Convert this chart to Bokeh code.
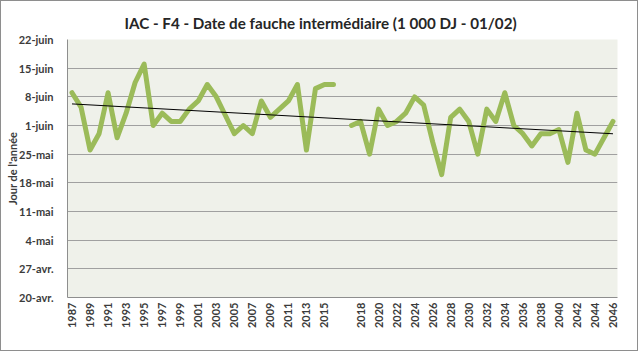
import numpy as np
from bokeh.plotting import figure
from bokeh.models import FixedTicker, ColumnDataSource
from bokeh.embed import file_html
from bokeh.resources import INLINE

# ---- data (day of year, non-leap: 1 June = 152) ----
years_hist = list(range(1987, 2017))
doy_hist = [160, 156.5, 146, 150, 160, 149, 155, 162.5, 167, 152,
            155, 153, 153, 156, 158, 162, 159, 154.5, 150, 152,
            150, 158, 154, 156, 158, 162, 146, 161, 162, 162]
years_proj = list(range(2017, 2047))
doy_proj = [152, 153, 145, 156, 152, 153, 155, 159, 157, 148,
            140, 154, 156, 153, 145, 156, 153, 160, 152, 150,
            147, 150, 150, 151, 143, 155, 146, 145, 149, 153]

y_tick_days = [110, 117, 124, 131, 138, 145, 152, 159, 166, 173]
y_tick_labels = ["20-avr.", "27-avr.", "4-mai", "11-mai", "18-mai",
                 "25-mai", "1-juin", "8-juin", "15-juin", "22-juin"]

title_text = "IAC - F4 - Date de fauche intermédiaire (1 000 DJ - 01/02)"
y_title = "Jour de l'année"

# categories: historical years, one empty slot, projected years
categories = [str(y) for y in years_hist] + [""] + [str(y) for y in years_proj]
values = doy_hist + [np.nan] + doy_proj
xs = list(range(len(categories)))

FONT = "Lato"
TXT = "#3b3b3b"

p = figure(width=638, height=351, output_backend="svg", toolbar_location=None,
           x_range=(-0.5, len(categories) - 0.5), y_range=(110, 173),
           min_border_left=66, min_border_right=22, min_border_top=38,
           min_border_bottom=55)
p.styles = {"border": "1px solid #8e8e8e"}

p.background_fill_color = "#eff1ea"
p.border_fill_color = "white"
p.outline_line_color = None

p.title.text = title_text
p.title.align = "left"
p.title.offset = 57
p.title.text_font = FONT
p.title.text_font_size = "15.2px"
p.title.text_font_style = "bold"
p.title.text_color = "#262626"
p.title.standoff = 16

# y axis
p.yaxis.ticker = FixedTicker(ticks=y_tick_days)
p.yaxis.major_label_overrides = {d: l for d, l in zip(y_tick_days, y_tick_labels)}
p.yaxis.axis_label = y_title
p.yaxis.axis_label_text_font = FONT
p.yaxis.axis_label_text_font_size = "11px"
p.yaxis.axis_label_text_font_style = "bold"
p.yaxis.axis_label_text_color = TXT
p.yaxis.axis_label_standoff = -3
p.yaxis.major_label_standoff = 14

# x axis
p.xaxis.ticker = FixedTicker(ticks=list(range(0, len(categories), 2)))
p.xaxis.major_label_overrides = {i: c for i, c in enumerate(categories)}
p.xaxis.major_label_orientation = np.pi / 2
p.xaxis.major_label_standoff = 5

for ax in (p.xaxis, p.yaxis):
    ax.axis_line_color = "#8e8e8e"
    ax.major_tick_line_color = None
    ax.minor_tick_line_color = None
    ax.major_tick_out = 0
    ax.minor_tick_out = 0
    ax.major_tick_in = 0
    ax.minor_tick_in = 0
    ax.major_label_text_font = FONT
    ax.major_label_text_font_size = "11px"
    ax.major_label_text_font_style = "bold"
    ax.major_label_text_color = TXT

p.xgrid.grid_line_color = None
p.ygrid.grid_line_color = "#a0a0a0"
p.ygrid.grid_line_width = 1

src = ColumnDataSource(dict(x=xs, y=values))
p.line("x", "y", source=src, line_color="#9bbb59", line_width=5,
       line_join="round", line_cap="round")

# linear trend over all valued categories
arr = np.array(values, dtype=float)
mask = ~np.isnan(arr)
xi = np.array(xs)[mask]
b, a = np.polyfit(xi, arr[mask], 1)
tx = [xs[0], xs[-1]]
p.line(tx, [a + b * t for t in tx], line_color="black", line_width=1)

open("out.html", "w").write(file_html(p, INLINE))
